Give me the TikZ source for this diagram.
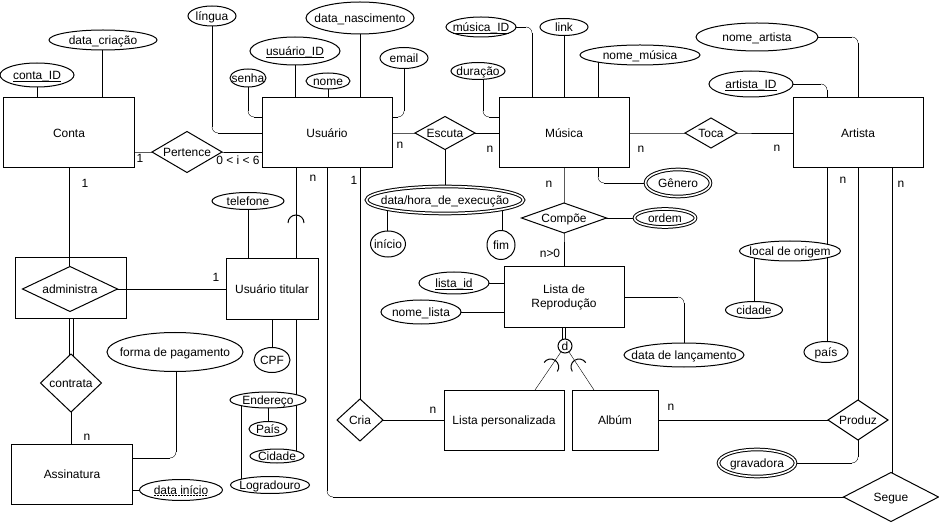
\documentclass[tikz,border=0pt]{standalone}
\usepackage{fontspec}
\setmainfont{Liberation Sans}
\usetikzlibrary{shapes.geometric,calc}
\pgfdeclarelayer{bg}
\pgfsetlayers{bg,main}
\newcommand\Z[1]{\makebox[0pt]{\raisebox{-0.35em}[0pt][0pt]{#1}}}
\newcommand\ulx[1]{\setbox1\hbox{#1}\rlap{\vrule height -1.6pt depth 2.4pt width \wd1}\box1}
\newcommand\elbow[3]{%
  \draw (#1) -- ($(#2)!6bp!(#1)$);
  \draw ($(#2)!6bp!(#3)$) -- (#3);
  \draw[rounded corners=6bp] ($(#2)!6bp!(#1)$) -- (#2) -- ($(#2)!6bp!(#3)$);}
\begin{document}
\begin{tikzpicture}[x=1bp,y=-1bp,line width=1bp,
  every node/.style={font=\fontsize{12}{14}\selectfont,inner sep=0pt,outer sep=0pt},
  box/.style n args={2}{draw,fill=white,rectangle,minimum width=#1bp,minimum height=#2bp},
  att/.style n args={2}{draw,fill=white,ellipse,minimum width=#1bp,minimum height=#2bp},
  datt/.style n args={2}{att={#1}{#2},double,double distance=1.6bp},
  rel/.style n args={2}{draw,fill=white,diamond,minimum width=#1bp,minimum height=#2bp}]
\useasboundingbox (0,0) rectangle (939,523);

% entities
\node[box={130}{70}] (conta) at (69,133) {\Z{Conta}};
\node[box={130}{70}] (usr) at (327,133) {\Z{Usuário}};
\node[box={130}{70}] (mus) at (564,133) {\Z{Música}};
\node[box={130}{70}] (art) at (858,133) {\Z{Artista}};
\node[box={120}{60},align=center] (lr) at (564,297) {Lista de\\Reprodução};
\node[box={120}{60}] (lp) at (504,420) {\Z{Lista personalizada}};
\node[box={86}{60}] (alb) at (615,420) {\Z{Albúm}};
\node[box={92}{60}] (tit) at (272,289) {\Z{Usuário titular}};
\node[box={120}{60}] (ass) at (72,474) {\Z{Assinatura}};
\node[draw,rectangle,minimum width=110bp,minimum height=60bp] (admr) at (71,288) {};

% attributes
\node[att={74}{24}] (contaid) at (37,75) {\Z{\ulx{conta\_ID}}};
\node[att={108}{20}] (dcri) at (103,40) {\Z{data\_criação}};
\node[att={48}{20}] (lingua) at (212,16) {\Z{língua}};
\node[att={36}{18}] (senha) at (248,78) {\Z{senha}};
\node[att={90}{28}] (uid) at (295,51) {\Z{\ulx{usuário\_ID}}};
\node[att={44}{16}] (nome) at (328,81) {\Z{nome}};
\node[att={108}{32}] (dnasc) at (360,18) {\Z{data\_nascimento}};
\node[att={48}{21}] (email) at (404,58) {\Z{email}};
\node[att={70}{20}] (mid) at (481,27) {\Z{\ulx{música\_ID}}};
\node[att={48}{17}] (link) at (564,27) {\Z{link}};
\node[att={120}{20}] (nmus) at (640,55) {\Z{nome\_música}};
\node[att={54}{17}] (dur) at (478,71) {\Z{duração}};
\node[att={122}{28}] (nart) at (757,37) {\Z{nome\_artista}};
\node[att={84}{26}] (aid) at (751,84) {\Z{\ulx{artista\_ID}}};
\node[datt={65}{27}] (gen) at (678,183) {\Z{Gênero}};
\node[datt={61}{18}] (ordem) at (665,218) {\Z{ordem}};
\node[datt={157}{27}] (dh) at (445,200) {\Z{data/hora\_de\_execução}};
\node[att={35}{26}] (inicio) at (388,244) {\Z{início}};
\node[att={28}{29}] (fim) at (501,245) {\Z{fim}};
\node[att={70}{22}] (lid) at (454,283) {\Z{\ulx{lista\_id}}};
\node[att={80}{24}] (nl) at (421,312) {\Z{nome\_lista}};
\node[att={120}{24}] (dlanc) at (684,355) {\Z{data de lançamento}};
\node[draw,fill=white,circle,minimum size=14bp] (dcirc) at (565,346) {\Z{d}};
\node[att={72}{17}] (tel) at (248,201) {\Z{telefone}};
\node[att={36}{25}] (cpf) at (272,360) {\Z{CPF}};
\node[att={76}{16}] (endr) at (268,400) {\Z{Endereço}};
\node[att={38}{15}] (pais) at (268,429) {\Z{País}};
\node[att={54}{14}] (cid) at (277,456) {\Z{Cidade}};
\node[att={79}{17}] (logr) at (270,485) {\Z{Logradouro}};
\node[att={136}{39}] (fp) at (175,352) {\Z{forma de pagamento}};
\node[att={83}{21}] (dini) at (181,490) {\Z{data início}};
\node[datt={77}{27}] (grav) at (757,463) {\Z{gravadora}};
\node[att={101}{20}] (lo) at (790,251) {\Z{local de origem}};
\node[att={57}{17}] (cidade) at (754,310) {\Z{cidade}};
\node[att={44}{21}] (paisA) at (826,352) {\Z{país}};

% relationships
\node[rel={70}{41}] (pert) at (187,152) {\Z{Pertence}};
\node[rel={60}{33}] (esc) at (445,133) {\Z{Escuta}};
\node[rel={52}{30}] (toca) at (711,133) {\Z{Toca}};
\node[rel={85}{30}] (comp) at (564,218) {\Z{Compõe}};
\node[rel={95}{45}] (admd) at (70,289) {\Z{administra}};
\node[rel={61}{58}] (contr) at (71,383) {\Z{contrata}};
\node[rel={46}{42}] (cria) at (360,420) {\Z{Cria}};
\node[rel={95}{49}] (seg) at (891,497) {\Z{Segue}};
\node[rel={60}{40}] (prod) at (858,420) {\Z{Produz}};

% cardinalities
\node (c1) at (140,158) {\Z{1}};
\node (c2) at (238,160) {\Z{0 < i < 6}};
\node (c3) at (85,183) {\Z{1}};
\node (c4) at (313,177) {\Z{n}};
\node (c5) at (354,180) {\Z{1}};
\node (c6) at (400,144) {\Z{n}};
\node (c7) at (490,148) {\Z{n}};
\node (c8) at (641,148) {\Z{n}};
\node (c9) at (777,147) {\Z{n}};
\node (c10) at (549,183) {\Z{n}};
\node (c11) at (550,253) {\Z{n>0}};
\node (c12) at (843,179) {\Z{n}};
\node (c13) at (901,183) {\Z{n}};
\node (c14) at (216,277) {\Z{1}};
\node (c15) at (87,436) {\Z{n}};
\node (c16) at (433,409) {\Z{n}};
\node (c17) at (671,406) {\Z{n}};

% partial key underline
\draw[dash pattern=on 2bp off 1bp,line width=0.8bp] ([xshift=-27bp,yshift=-5.5bp]dini.center) -- ([xshift=27bp,yshift=-5.5bp]dini.center);

% subset marks
\draw (288,223) arc[start angle=180,end angle=360,radius=8];
\draw (544.1,362.5) arc[start angle=214.3,end angle=394.3,radius=8];
\draw (572.3,371.4) arc[start angle=146.6,end angle=326.6,radius=8];

% helper coordinates
\coordinate (usrWL) at ([yshift=-19bp]usr.north west);
\coordinate (usrEL) at ([yshift=-19bp]usr.north east);
\coordinate (musWL) at ([yshift=-19bp]mus.north west);
\coordinate (musN1) at ([xshift=-32bp]mus.north);
\coordinate (artN1) at ([xshift=-31bp]art.north);
\coordinate (musS1) at ([xshift=34bp]mus.south);
\coordinate (assE1) at ([yshift=16bp]ass.east);
\coordinate (durX) at ([xshift=5bp]dur.center);
\coordinate (fpX) at ([xshift=1bp]fp.center);

\begin{pgfonlayer}{bg}
\draw (contaid.center) -- (contaid.center |- conta.north);
\draw ([xshift=-1bp]dcri.center) -- ([xshift=-1bp]dcri.center |- conta.north);
\draw (pert.center -| conta.east) -- (pert.center) -- (pert.center -| usr.west);
\elbow{lingua.center}{lingua.center |- usr.west}{usr.west}
\elbow{senha.center}{senha.center |- usrWL}{usrWL}
\draw (uid.center) -- (uid.center |- usr.north);
\draw (nome.center) -- (nome.center |- usr.north);
\draw (dnasc.center) -- (dnasc.center |- usr.north);
\elbow{email.center}{email.center |- usrEL}{usrEL}
\draw (usr.east) -- (esc.center) -- (mus.west);
\draw (esc.center) -- (dh.center);
\draw ([xshift=-1bp]inicio.center) -- ([xshift=-1bp]inicio.center |- dh.center);
\draw ([xshift=1bp]fim.center) -- ([xshift=1bp]fim.center |- dh.center);
\elbow{mid.center}{mid.center -| musN1}{musN1}
\draw (link.center) -- (link.center |- mus.north);
\draw ([xshift=34bp]mus.north) -- ([xshift=34bp]mus.north |- nmus.center);
\elbow{durX}{durX |- musWL}{musWL}
\draw (mus.east) -- (toca.center) -- (art.west);
\elbow{nart.center}{nart.center -| art.north}{art.north}
\elbow{aid.center}{aid.center -| artN1}{artN1}
\elbow{musS1}{musS1 |- gen.center}{gen.center}
\draw (mus.south) -- (comp.center) -- (lr.north);
\draw (comp.center) -- (ordem.center);
\draw (lid.center) -- (lid.center -| lr.west);
\draw (nl.center) -- (nl.center -| lr.west);
\elbow{lr.east}{lr.east -| dlanc.center}{dlanc.center}
\draw ([xshift=-1.5bp]lr.south) -- ([xshift=-1.5bp]lr.south |- dcirc.center);
\draw ([xshift=1.5bp]lr.south) -- ([xshift=1.5bp]lr.south |- dcirc.center);
\draw (dcirc.center) -- ([xshift=31bp]lp.north);
\draw (dcirc.center) -- ([xshift=-21bp]alb.north);
\draw ([xshift=-31bp]usr.south) -- ([xshift=-31bp]usr.south |- tit.north);
\draw (tel.center) -- (tel.center |- tit.north);
\draw (cpf.center) -- (cpf.center |- tit.south);
\draw ([xshift=24bp]tit.south) -- ([xshift=24bp]tit.south |- cid.center);
\draw (pais.center) -- (endr.center);
\draw ([xshift=-27bp]endr.center) -- ([xshift=-27bp]endr.center |- logr.center);
\draw (conta.south) -- (conta.south |- admd.center);
\draw (admd.center) -- (admd.center -| tit.west);
\draw ([xshift=-2bp]admr.south) -- ([xshift=-2bp]admr.south |- contr.center);
\draw ([xshift=2bp]admr.south) -- ([xshift=2bp]admr.south |- contr.center);
\draw (contr.center) -- (contr.center |- ass.north);
\elbow{fpX}{fpX |- assE1}{assE1}
\draw (dini.center -| ass.east) -- (dini.center);
\draw ([xshift=33bp]usr.south) -- ([xshift=33bp]usr.south |- cria.center);
\draw (cria.center) -- (lp.west);
\elbow{usr.south}{usr.south |- seg.center}{seg.center}
\draw ([xshift=34bp]art.south) -- ([xshift=34bp]art.south |- seg.center);
\draw (art.south) -- (prod.center) -- (alb.east);
\elbow{prod.center}{prod.center |- grav.center}{grav.center}
\draw ([xshift=-31bp]art.south) -- ([xshift=-31bp]art.south |- paisA.center);
\draw (cidade.center) -- (cidade.center |- lo.center);
\end{pgfonlayer}
\end{tikzpicture}
\end{document}
